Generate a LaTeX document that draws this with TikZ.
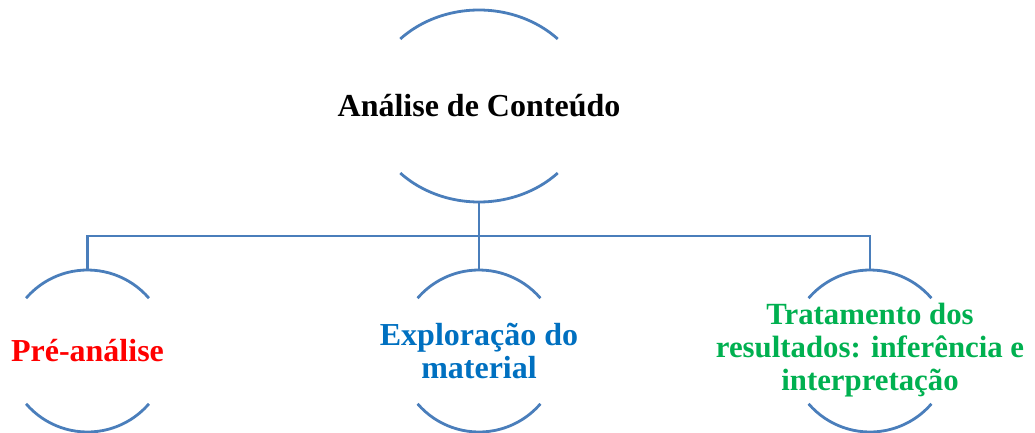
\documentclass[tikz,border=0pt]{standalone}
\usepackage{fontspec}
\setmainfont{Liberation Serif}
\usetikzlibrary{shapes.geometric}
\definecolor{lineblue}{HTML}{4A7EBB}
\definecolor{txtred}{HTML}{FF0000}
\definecolor{txtblue}{HTML}{0070C0}
\definecolor{txtgreen}{HTML}{00B050}
\tikzset{
  arcline/.style={draw=lineblue, line width=2.8pt},
  conn/.style={draw=lineblue, line width=2.5pt},
  bigfont/.style={font=\fontsize{32}{32.8}\selectfont\bfseries},
  rootnode/.style={ellipse, minimum width=220pt, minimum height=192pt, inner sep=0pt, align=center, bigfont},
  childnode/.style={circle, minimum size=162pt, inner sep=0pt},
  childtext/.style={align=center, inner sep=0pt, bigfont},
}
\begin{document}
\begin{tikzpicture}[x=1pt,y=1pt]
\useasboundingbox (0,0) rectangle (1035,-433);
\node[rootnode] (root) at (479,-106) {Análise de Conteúdo};
\node[childnode] (c1) at (87.5,-351) {};
\node[childnode] (c2) at (479,-351) {};
\node[childnode] (c3) at (870,-351) {};
\node[childtext, text=txtred] (t1) at (c1.center) {Pré-análise};
\node[childtext, text=txtblue] (t2) at (c2.center) {Exploração do\\material};
\node[childtext, text=txtgreen, font=\fontsize{30.8}{32.6}\selectfont\bfseries] (t3) at ([yshift=1pt]c3.center) {Tratamento dos\\resultados: inferência e\\interpretação};
% root arcs
\draw[arcline] ([shift={(44.3:110pt and 96pt)}]root.center) arc[start angle=44.3, end angle=135.7, x radius=110pt, y radius=96pt];
\draw[arcline] ([shift={(224.3:110pt and 96pt)}]root.center) arc[start angle=224.3, end angle=315.7, x radius=110pt, y radius=96pt];
% child arcs
\foreach \c in {c1,c2,c3}{
  \draw[arcline] ([shift={(40.7:81pt)}]\c.center) arc[start angle=40.7, end angle=139.3, radius=81pt];
  \draw[arcline] ([shift={(220.7:81pt)}]\c.center) arc[start angle=220.7, end angle=319.3, radius=81pt];
}
% connectors
\draw[conn] (root.south) -- ++(0,-34) -| (c1.north);
\draw[conn] (root.south) -- ++(0,-34) -| (c3.north);
\draw[conn] (root.south) -- (c2.north);
\end{tikzpicture}
\end{document}
